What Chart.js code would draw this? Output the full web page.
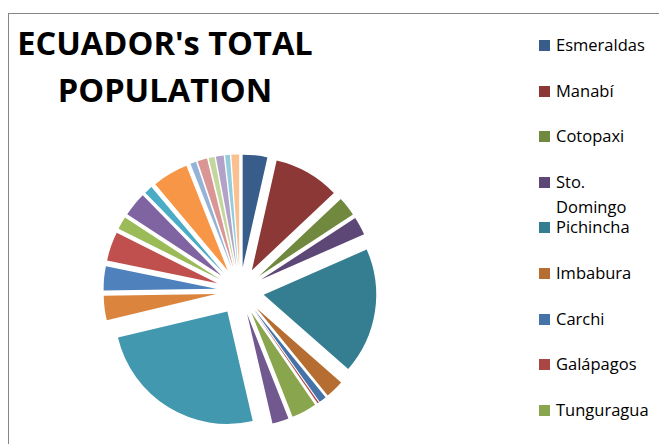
<!DOCTYPE html>
<html lang="en">
<head>
  <meta charset="UTF-8" />
  <title>Ecuador's Total Population</title>
  <style>
    body {
      margin: 0;
      width: 659px;
      height: 444px;
      overflow: hidden;
      background: #ffffff;
      font-family: 'Open Sans', sans-serif;
      position: relative;
    }

    .frame {
      position: absolute;
      left: 8px;
      top: 13px;
      width: 900px;
      height: 900px;
      border-left: 1px solid #868686;
      border-top: 1px solid #868686;
    }

    .chart-title {
      position: absolute;
      left: 15px;
      top: 19px;
      width: 300px;
      text-align: center;
      font-weight: 700;
      font-size: 32.6px;
      line-height: 47px;
      color: #000000;
      white-space: nowrap;
    }

    .pie-box {
      position: absolute;
      left: 90px;
      top: 141px;
      width: 300px;
      height: 300px;
    }

    .legend-item {
      position: absolute;
      left: 539px;
      font-size: 16.5px;
      line-height: 25px;
      color: #000000;
    }

    .legend-box {
      position: absolute;
      left: 0;
      top: 8px;
      width: 11px;
      height: 11px;
    }

    .legend-text {
      margin-left: 17px;
      width: 102px;
    }
  </style>
</head>
<body>
  <div class="frame"></div>
  <div class="chart-title">ECUADOR's TOTAL<br>POPULATION</div>

  <div class="pie-box">
    <canvas id="popChart"></canvas>
  </div>

  <div id="legend"></div>

  <script src="https://cdn.jsdelivr.net/npm/chart.js"></script>
  <script>
    // provinces, in the order the slices run clockwise from 12 o'clock
    const provinces = [
      'Esmeraldas', 'Manabí', 'Cotopaxi', 'Sto. Domingo', 'Pichincha', 'Imbabura',
      'Carchi', 'Galápagos', 'Tunguragua', 'Santa Elena', 'Guayas', 'Chimborazo',
      'Loja', 'El Oro', 'Cañar', 'Azuay', 'Bolívar', 'Los Ríos',
      'Sucumbíos', 'Morona Santiago', 'Orellana', 'Napo', 'Zamora Chinchipe', 'Pastaza'
    ];

    // population in thousands
    const population = [
      511, 1368, 402, 382, 2615, 382,
      153, 32, 523, 342, 3601, 503,
      503, 603, 262, 503, 173, 744,
      121, 201, 121, 161, 101, 161
    ];

    const sliceColors = [
      '#385D8A', '#8C3836', '#71893F', '#5C4776', '#357D91', '#B66D31',
      '#4572A7', '#AA4643', '#89A54E', '#71588F', '#4198AF', '#DB843D',
      '#4F81BD', '#C0504D', '#9BBB59', '#8064A2', '#4BACC6', '#F79646',
      '#95B3D7', '#D99694', '#C3D69B', '#B3A2C7', '#93CDDD', '#FAC090'
    ];

    const EXPLODE = 24;   // px each slice is pulled out
    const RADIUS = 112.5;

    // push every slice out along its own bisector, like an exploded Excel pie
    const explodePlugin = {
      id: 'explode',
      afterDatasetUpdate(chart, args) {
        args.meta.data.forEach(arc => {
          const mid = (arc.startAngle + arc.endAngle) / 2;
          arc.x += EXPLODE * Math.cos(mid);
          arc.y += EXPLODE * Math.sin(mid);
        });
      }
    };

    new Chart(document.getElementById('popChart'), {
      type: 'pie',
      data: {
        labels: provinces,
        datasets: [{
          data: population,
          backgroundColor: sliceColors,
          borderWidth: 0
        }]
      },
      options: {
        responsive: true,
        maintainAspectRatio: false,
        animation: false,
        events: [],
        radius: RADIUS,
        layout: { padding: 0 },
        plugins: {
          legend: { display: false },
          tooltip: { enabled: false }
        }
      },
      plugins: [explodePlugin]
    });

    // legend on the right, fixed pitch like the original (runs off the bottom)
    const legend = document.getElementById('legend');
    provinces.forEach((name, i) => {
      const item = document.createElement('div');
      item.className = 'legend-item';
      item.style.top = (32 + 45.6 * i) + 'px';
      item.innerHTML = '<span class="legend-box" style="background:' + sliceColors[i] + '"></span>' +
        '<div class="legend-text">' + name + '</div>';
      legend.appendChild(item);
    });
  </script>
</body>
</html>
